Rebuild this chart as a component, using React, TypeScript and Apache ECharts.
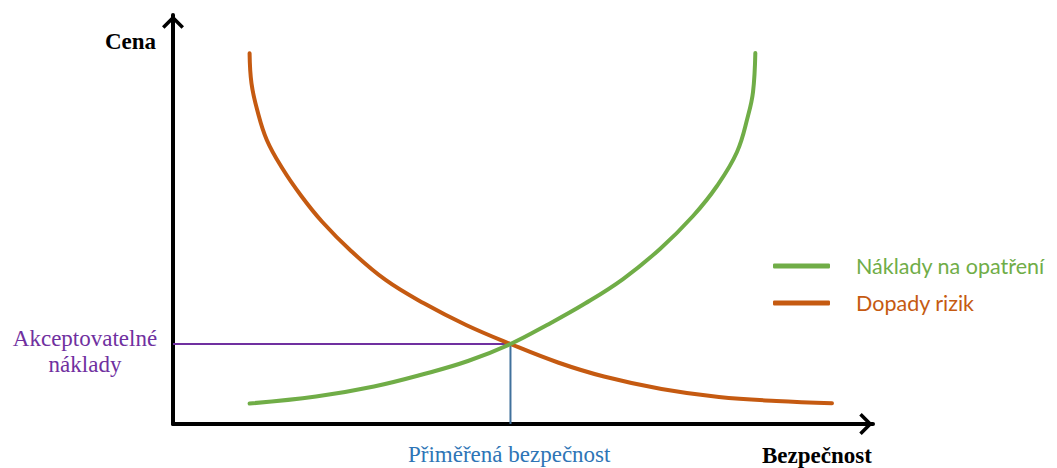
import React, { useEffect, useRef } from "react";
import * as echarts from "echarts";

// Abstract scale: x = security (0..100), y = cost (0..100)
const costX = [10.94, 20.43, 28.71, 35.86, 42.14, 48.21, 53.43, 58.86, 64.29, 69.57, 74.29, 77.71, 80.57, 82.14, 82.86, 83.19];
const costY = [5.01, 6.72, 9.17, 12.22, 15.4, 19.56, 24.21, 29.46, 35.45, 42.79, 50.86, 58.19, 66.5, 75.31, 81.17, 90.71];
const riskX = [10.94, 11.21, 12.03, 13.4, 15.59, 18.33, 21.34, 25.44, 30.37, 35.84, 41.87, 48.21, 55.0, 61.57, 69.79, 77.99, 86.2, 94.14];
const riskY = [90.64, 83.3, 76.77, 69.44, 62.59, 55.75, 49.39, 42.3, 35.21, 29.51, 24.21, 19.56, 15.04, 11.61, 8.56, 6.6, 5.62, 5.09];
const optimumX = 48.21;
const optimumY = 19.56;

const seriesNames = ["Náklady na opatření", "Dopady rizik"];
const yAxisTitle = "Cena";
const xAxisTitle = "Bezpečnost";
const optimumXLabel = "Přiměřená bezpečnost";
const optimumYLabel = ["Akceptovatelné", "náklady"];

const GREEN = "#70AD47";
const ORANGE = "#C55A11";
const PURPLE = "#7030A0";
const BLUE = "#2E75B6";
const SERIF = "'Liberation Serif', 'Times New Roman', serif";

const chevron = "path://M0,11 L11,0 L22,11 L19.5,13.5 L11,5 L2.5,13.5 Z";

export default function App() {
  const ref = useRef<HTMLDivElement>(null);
  useEffect(() => {
    if (!ref.current) return;
    const chart = echarts.init(ref.current, null, { renderer: "svg" });
    const axisCommon = {
      type: "value" as const,
      min: 0,
      max: 100,
      axisLabel: { show: false },
      axisTick: { show: false },
      splitLine: { show: false },
      axisLine: {
        show: true,
        onZero: false,
        symbol: ["none", chevron],
        symbolSize: [22, 14],
        symbolOffset: [0, -7],
        lineStyle: { color: "#000", width: 4 },
      },
    };
    chart.setOption({
      animation: false,
      backgroundColor: "#fff",
      grid: { left: 173, right: 184, top: 15, bottom: 44 },
      xAxis: axisCommon,
      yAxis: axisCommon,
      legend: {
        orient: "vertical",
        left: 773,
        top: 254,
        padding: 0,
        itemWidth: 57,
        itemHeight: 5,
        itemGap: 13,
        icon: "roundRect",
        data: [
          { name: seriesNames[0], textStyle: { color: GREEN } },
          { name: seriesNames[1], textStyle: { color: ORANGE } },
        ],
        textStyle: {
          fontFamily: "Lato, 'Noto Sans', sans-serif",
          fontSize: 21.5,
          lineHeight: 24,
          padding: [0, 0, 0, 21],
        },
      },
      series: [
        {
          name: "ref-h",
          type: "line",
          data: [[0, optimumY], [optimumX, optimumY]],
          showSymbol: false,
          lineStyle: { color: PURPLE, width: 2 },
          silent: true,
          z: 1,
        },
        {
          name: "ref-v",
          type: "line",
          data: [[optimumX, optimumY], [optimumX, 0]],
          showSymbol: false,
          lineStyle: { color: "#41719C", width: 2 },
          silent: true,
          z: 1,
        },
        {
          name: seriesNames[0],
          type: "line",
          data: costX.map((x, i) => [x, costY[i]]),
          smooth: 0.4,
          showSymbol: false,
          itemStyle: { color: GREEN },
          lineStyle: { color: GREEN, width: 4, cap: "round" },
          z: 3,
        },
        {
          name: seriesNames[1],
          type: "line",
          data: riskX.map((x, i) => [x, riskY[i]]),
          smooth: 0.4,
          showSymbol: false,
          itemStyle: { color: ORANGE },
          lineStyle: { color: ORANGE, width: 4, cap: "round" },
          z: 2,
        },
      ],
      graphic: [
        {
          type: "text",
          left: 105,
          top: 30,
          style: { text: yAxisTitle, font: `bold 23px ${SERIF}`, fill: "#000" },
        },
        {
          type: "text",
          left: 762,
          top: 444,
          style: { text: xAxisTitle, font: `bold 23px ${SERIF}`, fill: "#000" },
        },
        {
          type: "text",
          left: 408,
          top: 443,
          style: { text: optimumXLabel, font: `23px ${SERIF}`, fill: BLUE },
        },
        {
          type: "text",
          x: 85,
          y: 338,
          style: { text: optimumYLabel[0], font: `23px ${SERIF}`, fill: PURPLE, align: "center", verticalAlign: "middle" },
        },
        {
          type: "text",
          x: 85,
          y: 364,
          style: { text: optimumYLabel[1], font: `23px ${SERIF}`, fill: PURPLE, align: "center", verticalAlign: "middle" },
        },
      ],
    });
    return () => chart.dispose();
  }, []);
  return <div ref={ref} style={{ position: "absolute", left: 0, top: 0, width: 1057, height: 468 }} />;
}
